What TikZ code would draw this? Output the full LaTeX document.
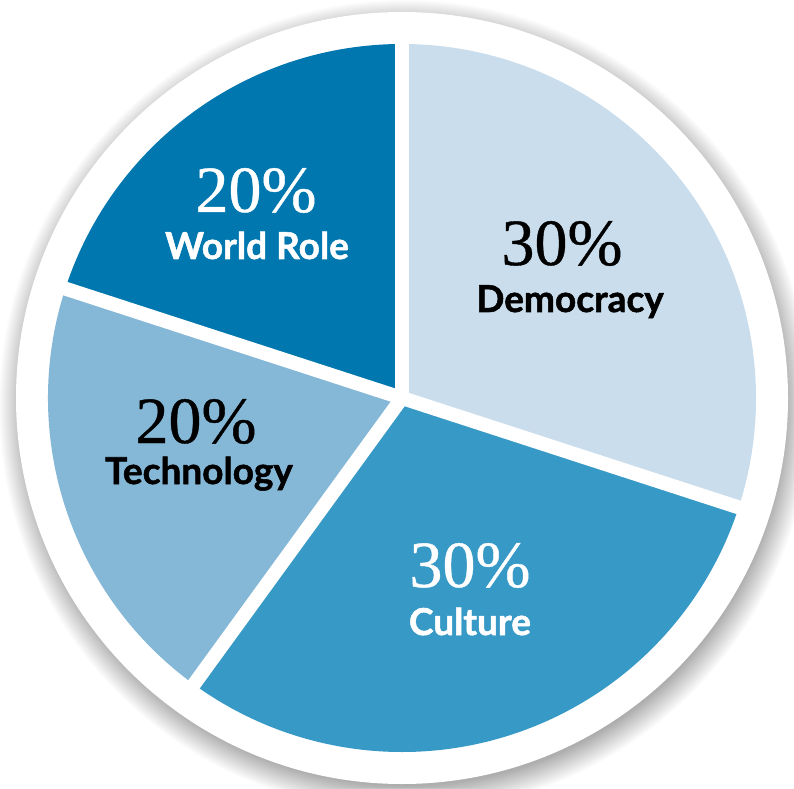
\documentclass[tikz,border=0pt]{standalone}
\usepackage{fontspec}
\usetikzlibrary{calc}
\setmainfont{Liberation Serif}
\newfontfamily\pctfont[FakeBold=0.6]{Liberation Serif}
\newfontfamily\labelfont[BoldFeatures={FakeBold=1.4}]{Lato}
\definecolor{worldc}{HTML}{0077AE}
\definecolor{techc}{HTML}{85B7D7}
\definecolor{democ}{HTML}{CADDEC}
\definecolor{cultc}{HTML}{3799C6}
\tikzset{
  pct/.style={anchor=base, inner sep=0pt, font=\pctfont\fontsize{66}{66}\selectfont},
  lbl/.style={anchor=base, inner sep=0pt, font=\labelfont\bfseries\fontsize{37}{37}\selectfont},
  gapline/.style={white, line width=14pt}
}
\begin{document}
\begin{tikzpicture}[x=1pt,y=1pt]
\useasboundingbox (0,0) rectangle (794,788);
\clip (0,0) rectangle (794,788);
\fill[white] (0,0) rectangle (794,788);
\coordinate (C) at (402,390);
\coordinate (S) at (405,382);
% shadow
\foreach \i in {0,...,26}{
  \fill[black, opacity=0.01] (S) circle[radius=380+\i];
}
\fill[white] (C) circle[radius=386];
% slices
\fill[democ] (C) -- ++(90:354) arc[start angle=90, end angle=-18, radius=354] -- cycle;
\fill[cultc] (C) -- ++(-18:354) arc[start angle=-18, end angle=-126, radius=354] -- cycle;
\fill[techc] (C) -- ++(-126:354) arc[start angle=-126, end angle=-198, radius=354] -- cycle;
\fill[worldc] (C) -- ++(162:354) arc[start angle=162, end angle=90, radius=354] -- cycle;
% gaps
\coordinate (g1) at ($(C)+(90:362)$);
\coordinate (g2) at ($(C)+(-18:362)$);
\coordinate (g3) at ($(C)+(-126:362)$);
\coordinate (g4) at ($(C)+(162:362)$);
\draw[gapline] (C) -- (g1);
\draw[gapline] (C) -- (g2);
\draw[gapline] (C) -- (g3);
\draw[gapline] (C) -- (g4);
% labels
\node[pct, white] (wp) at (256,576) {20\%};
\node[lbl, white] (wl) at (257,529) {World Role};
\node[pct, black] (dp) at (562,523) {30\%};
\node[lbl, black] (dl) at (570,476) {Democracy};
\node[pct, black] (tp) at (196,345) {20\%};
\node[lbl, black] (tl) at (199,304) {Technology};
\node[pct, white] (cp) at (470,201) {30\%};
\node[lbl, white] (cl) at (470,153) {Culture};
\end{tikzpicture}
\end{document}
